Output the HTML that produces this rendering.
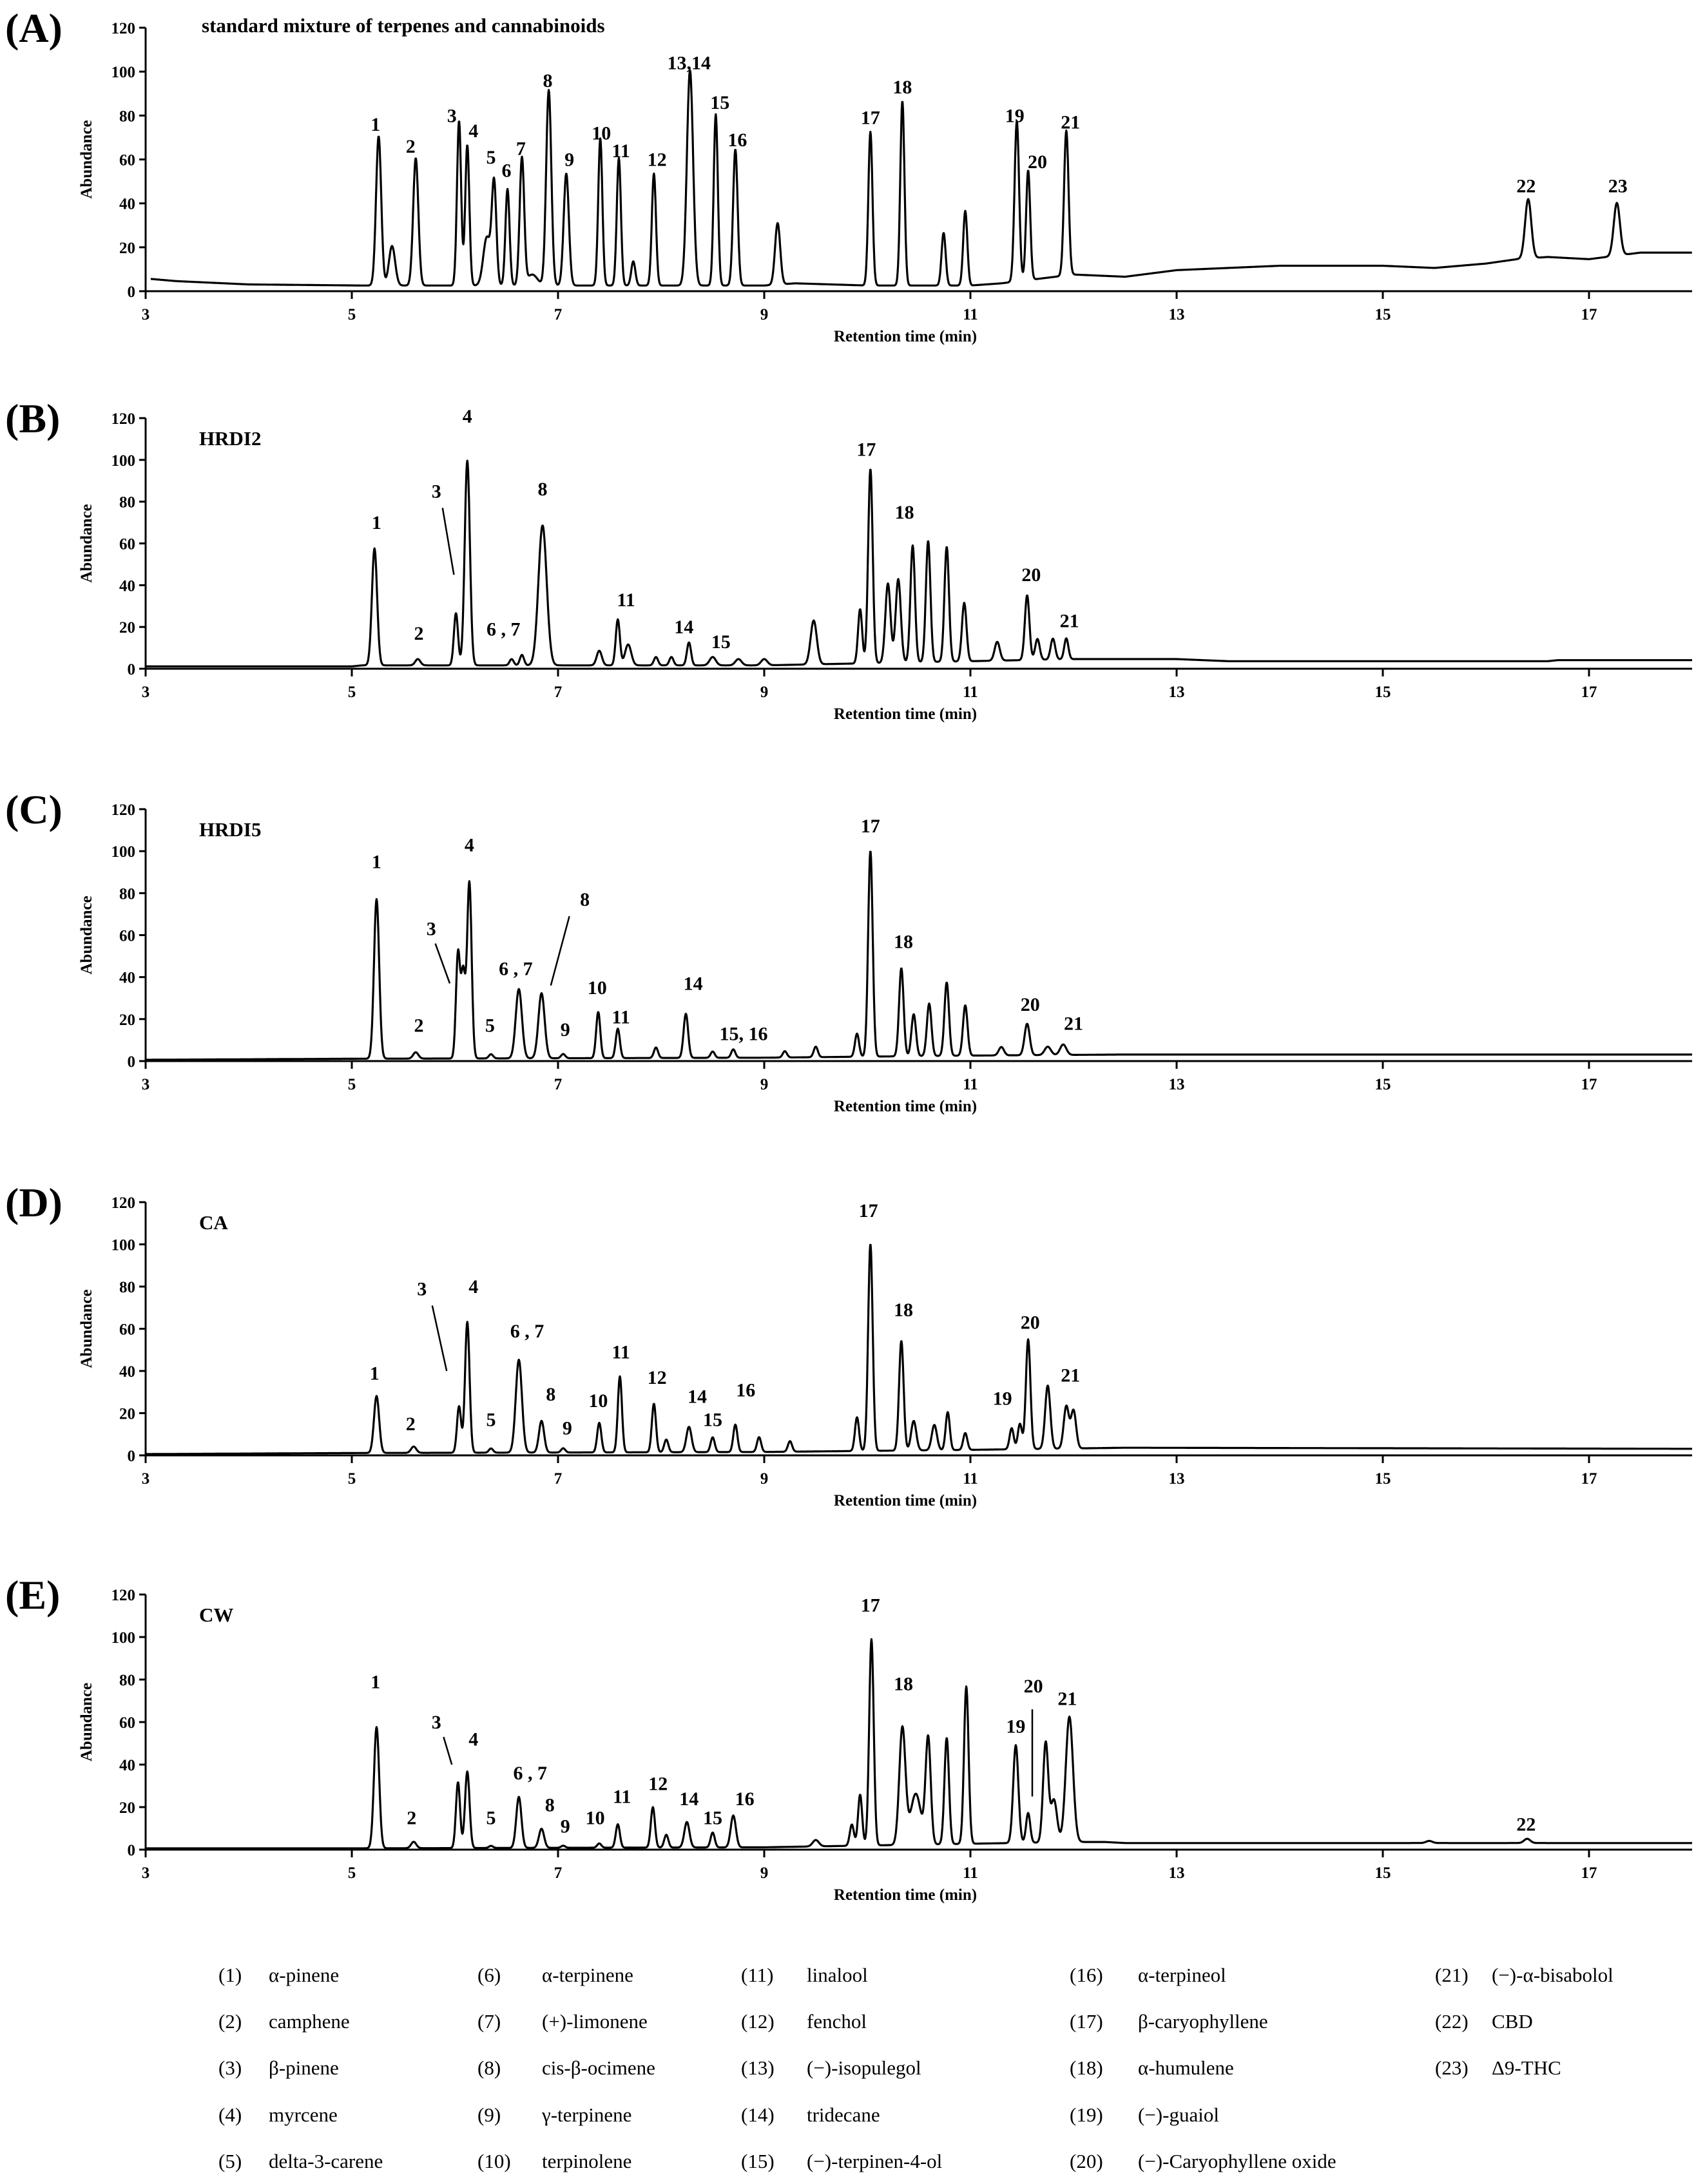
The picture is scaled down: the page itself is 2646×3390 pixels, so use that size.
<!DOCTYPE html>
<html><head><meta charset="utf-8">
<style>
html,body{margin:0;padding:0;background:#fff;}
svg{display:block;}
text{font-family:"Liberation Serif","DejaVu Serif",serif;fill:#000;}
.tk{font-size:25px;font-weight:bold;}
.pl{font-size:30px;font-weight:bold;}
.lg{font-size:31px;}
</style></head>
<body>
<svg id="chart" width="2646" height="3390" viewBox="0 0 2646 3390" xmlns="http://www.w3.org/2000/svg">
<g id="legend">
<g class="lg">
<text x="339" y="3076" class="lg">(1)</text><text x="417" y="3076" class="lg">α-pinene</text>
<text x="339" y="3148" class="lg">(2)</text><text x="417" y="3148" class="lg">camphene</text>
<text x="339" y="3220" class="lg">(3)</text><text x="417" y="3220" class="lg">β-pinene</text>
<text x="339" y="3293" class="lg">(4)</text><text x="417" y="3293" class="lg">myrcene</text>
<text x="339" y="3365" class="lg">(5)</text><text x="417" y="3365" class="lg">delta-3-carene</text>
<text x="741" y="3076" class="lg">(6)</text><text x="841" y="3076" class="lg">α-terpinene</text>
<text x="741" y="3148" class="lg">(7)</text><text x="841" y="3148" class="lg">(+)-limonene</text>
<text x="741" y="3220" class="lg">(8)</text><text x="841" y="3220" class="lg">cis-β-ocimene</text>
<text x="741" y="3293" class="lg">(9)</text><text x="841" y="3293" class="lg">γ-terpinene</text>
<text x="741" y="3365" class="lg">(10)</text><text x="841" y="3365" class="lg">terpinolene</text>
<text x="1150" y="3076" class="lg">(11)</text><text x="1252" y="3076" class="lg">linalool</text>
<text x="1150" y="3148" class="lg">(12)</text><text x="1252" y="3148" class="lg">fenchol</text>
<text x="1150" y="3220" class="lg">(13)</text><text x="1252" y="3220" class="lg">(−)-isopulegol</text>
<text x="1150" y="3293" class="lg">(14)</text><text x="1252" y="3293" class="lg">tridecane</text>
<text x="1150" y="3365" class="lg">(15)</text><text x="1252" y="3365" class="lg">(−)-terpinen-4-ol</text>
<text x="1660" y="3076" class="lg">(16)</text><text x="1766" y="3076" class="lg">α-terpineol</text>
<text x="1660" y="3148" class="lg">(17)</text><text x="1766" y="3148" class="lg">β-caryophyllene</text>
<text x="1660" y="3220" class="lg">(18)</text><text x="1766" y="3220" class="lg">α-humulene</text>
<text x="1660" y="3293" class="lg">(19)</text><text x="1766" y="3293" class="lg">(−)-guaiol</text>
<text x="1660" y="3365" class="lg">(20)</text><text x="1766" y="3365" class="lg">(−)-Caryophyllene oxide</text>
<text x="2227" y="3076" class="lg">(21)</text><text x="2315" y="3076" class="lg">(−)-α-bisabolol</text>
<text x="2227" y="3148" class="lg">(22)</text><text x="2315" y="3148" class="lg">CBD</text>
<text x="2227" y="3220" class="lg">(23)</text><text x="2315" y="3220" class="lg">Δ9-THC</text>
</g>
</g>
</svg>
<script>
const xTicks = [3,5,7,9,11,13,15,17];
const yTicks = [0,20,40,60,80,100,120];

// Panel A: standard mixture
const aTimes   = [5.26,5.39,5.62,6.04,6.12,6.31,6.38,6.51,6.65,6.75,6.91,7.08,7.41,7.59,7.73,7.93,8.28,8.53,8.72,9.13,10.03,10.34,10.74,10.95,11.45,11.56,11.93,16.41,17.27];
const aHeights = [68,18,58,75,64,22,46,44,58,5,89,51,67,58,11,51,98,78,62,28,70,84,24,34,73,50,66,27,24];
const aWidths  = [0.025,0.03,0.025,0.02,0.02,0.035,0.022,0.02,0.022,0.05,0.025,0.025,0.02,0.02,0.02,0.02,0.03,0.02,0.022,0.025,0.02,0.02,0.02,0.02,0.022,0.02,0.022,0.03,0.03];
const aBase    = [[3.05,5],[3.3,4],[4,2.5],[5.1,2],[6,2],[9,2],[9.3,3],[10,2],[11,2],[11.3,3],[12,7],[12.5,6],[13,9],[14,11],[15,11],[15.5,10],[16,12],[16.3,14],[16.6,15],[17,14],[17.5,17],[18,17]];
const aLabels  = ["1","2","3","4","5","6","7","8","9","10","11","12","13,14","15","16","17","18","19","20","21","22","23"];
const aLabelT  = [5.23,5.57,5.97,6.18,6.35,6.5,6.64,6.9,7.11,7.42,7.61,7.96,8.27,8.57,8.74,10.03,10.34,11.43,11.65,11.97,16.39,17.28];
const aLabelV  = [76,66,80,73,61,55,65,96,60,72,64,60,104,86,69,79,93,80,59,77,48,48];

// Panel B: HRDI2
const bTimes   = [5.22,5.64,6.01,6.12,6.55,6.65,6.85,7.4,7.58,7.68,7.95,8.1,8.27,8.5,8.75,9.0,9.48,9.93,10.03,10.2,10.3,10.44,10.59,10.77,10.94,11.26,11.55,11.65,11.8,11.93];
const bHeights = [56,3,25,98,3,5,67,7,22,10,4,4,11,4,3,3,21,26,93,38,40,56,58,55,28,9,31,10,10,10];
const bWidths  = [0.025,0.025,0.02,0.025,0.02,0.02,0.04,0.025,0.02,0.03,0.02,0.02,0.02,0.03,0.03,0.03,0.03,0.02,0.022,0.025,0.025,0.022,0.022,0.022,0.022,0.025,0.022,0.022,0.022,0.02];
const bBase    = [[3,0.5],[5,0.5],[5.1,1],[9,1],[10,2],[12,4],[12.5,4],[13,4],[13.5,3],[16.6,3],[16.7,3.5],[18,3.5]];
const bLabels  = ["1","2","3","4","6 , 7","8","11","14","15","17","18","20","21"];
const bLabelT  = [5.24,5.65,5.82,6.12,6.47,6.85,7.66,8.22,8.58,9.99,10.36,11.59,11.96];
const bLabelV  = [70,17,85,121,19,86,33,20,13,105,75,45,23];
const bLeaders = [[5.88,77,5.99,45]];

// Panel C: HRDI5
const cTimes   = [5.24,5.62,6.03,6.08,6.14,6.35,6.62,6.84,7.05,7.39,7.58,7.95,8.24,8.5,8.7,9.2,9.5,9.9,10.03,10.33,10.45,10.6,10.77,10.95,11.3,11.55,11.75,11.9];
const cHeights = [76,3,50,40,84,2,33,31,2,22,14,5,21,3,4,3,5,11,98,42,20,25,35,24,4,15,4,5];
const cWidths  = [0.025,0.025,0.02,0.02,0.022,0.02,0.03,0.03,0.02,0.02,0.02,0.02,0.022,0.02,0.02,0.02,0.02,0.02,0.022,0.022,0.022,0.022,0.022,0.022,0.025,0.025,0.03,0.03];
const cBase    = [[3,0],[5,0.5],[9,1],[11,2],[12.5,2.5],[18,2.5]];
const cLabels  = ["1","2","3","4","5","6 , 7","8","9","10","11","14","15, 16","17","18","20","21"];
const cLabelT  = [5.24,5.65,5.77,6.14,6.34,6.59,7.26,7.07,7.38,7.61,8.31,8.8,10.03,10.35,11.58,12.0];
const cLabelV  = [95,17,63,103,17,44,77,15,35,21,37,13,112,57,27,18];
const cLeaders = [[5.81,56,5.95,37],[7.11,69,6.93,36]];

// Panel D: CA
const dTimes   = [5.24,5.6,6.04,6.12,6.35,6.62,6.84,7.05,7.4,7.6,7.93,8.05,8.27,8.5,8.72,8.95,9.25,9.9,10.03,10.33,10.45,10.65,10.78,10.95,11.4,11.48,11.56,11.75,11.93,12.0];
const dHeights = [27,3,22,62,2,44,15,2,14,36,23,6,12,7,13,7,5,16,98,52,14,12,18,8,10,12,52,30,20,18];
const dWidths  = [0.025,0.025,0.02,0.022,0.02,0.03,0.025,0.02,0.02,0.02,0.02,0.02,0.025,0.02,0.02,0.02,0.02,0.02,0.022,0.022,0.025,0.025,0.02,0.02,0.02,0.02,0.022,0.025,0.025,0.025];
const dBase    = [[3,0],[5,0.5],[9,1],[11,2],[12.5,3],[18,2.5]];
const dLabels  = ["1","2","3","4","5","6 , 7","8","9","10","11","12","14","15","16","17","18","19","20","21"];
const dLabelT  = [5.22,5.57,5.68,6.18,6.35,6.7,6.93,7.09,7.39,7.61,7.96,8.35,8.5,8.82,10.01,10.35,11.31,11.58,11.97];
const dLabelV  = [39,15,79,80,17,59,29,13,26,49,37,28,17,31,116,69,27,63,38];
const dLeaders = [[5.78,71,5.92,40]];

// Panel E: CW
const eTimes   = [5.24,5.6,6.03,6.12,6.35,6.62,6.84,7.05,7.4,7.58,7.92,8.05,8.25,8.5,8.7,9.5,9.85,9.93,10.04,10.34,10.47,10.59,10.77,10.96,11.44,11.56,11.73,11.81,11.96,15.45,16.4];
const eHeights = [57,3,31,36,1,24,9,1,2,11,19,6,12,7,15,3,10,24,97,55,24,50,50,74,46,14,47,20,59,1,2];
const eWidths  = [0.025,0.025,0.02,0.022,0.02,0.025,0.025,0.02,0.02,0.02,0.02,0.02,0.025,0.02,0.025,0.03,0.02,0.02,0.022,0.03,0.05,0.025,0.022,0.022,0.025,0.02,0.025,0.03,0.035,0.03,0.03];
const eBase    = [[3,0],[5,0],[9,0.5],[12,3],[12.3,3],[12.5,2.5],[18,2.5]];
const eLabels  = ["1","2","3","4","5","6 , 7","8","9","10","11","12","14","15","16","17","18","19","20","21","22"];
const eLabelT  = [5.23,5.58,5.82,6.18,6.35,6.73,6.92,7.07,7.36,7.62,7.97,8.27,8.5,8.81,10.03,10.35,11.44,11.61,11.94,16.39];
const eLabelV  = [79,15,60,52,15,36,21,11,15,25,31,24,15,24,115,78,58,77,71,12];
const eLeaders = [[5.89,53,5.97,40],[11.6,66,11.6,25]];

const panels = [
  {id:"a", letter:"(A)", title:"standard mixture  of terpenes and cannabinoids", y0:452, y120:43, times:aTimes, heights:aHeights, widths:aWidths, base:aBase, labels:aLabels, lt:aLabelT, lv:aLabelV, leaders:[]},
  {id:"b", letter:"(B)", title:"HRDI2", y0:1038, y120:649, times:bTimes, heights:bHeights, widths:bWidths, base:bBase, labels:bLabels, lt:bLabelT, lv:bLabelV, leaders:bLeaders},
  {id:"c", letter:"(C)", title:"HRDI5", y0:1647, y120:1256, times:cTimes, heights:cHeights, widths:cWidths, base:cBase, labels:cLabels, lt:cLabelT, lv:cLabelV, leaders:cLeaders},
  {id:"d", letter:"(D)", title:"CA", y0:2259, y120:1866, times:dTimes, heights:dHeights, widths:dWidths, base:dBase, labels:dLabels, lt:dLabelT, lv:dLabelV, leaders:dLeaders},
  {id:"e", letter:"(E)", title:"CW", y0:2871, y120:2475, times:eTimes, heights:eHeights, widths:eWidths, base:eBase, labels:eLabels, lt:eLabelT, lv:eLabelV, leaders:eLeaders}
];

const NS = "http://www.w3.org/2000/svg";
const svg = document.getElementById("chart");
const xScale = t => 226 + (t - 3) * 160;

function mk(tag, attrs, parent, txt){
  const el = document.createElementNS(NS, tag);
  for (const k in attrs) el.setAttribute(k, attrs[k]);
  if (txt !== undefined) el.textContent = txt;
  parent.appendChild(el);
  return el;
}
function baseAt(base, t){
  if (t <= base[0][0]) return base[0][1];
  for (let i = 1; i < base.length; i++){
    if (t <= base[i][0]){
      const a = base[i-1], b = base[i];
      return a[1] + (b[1]-a[1]) * (t-a[0])/(b[0]-a[0]);
    }
  }
  return base[base.length-1][1];
}

panels.forEach(p => {
  const yScale = v => p.y0 - (p.y0 - p.y120) * v / 120;
  const g = mk("g", {}, svg);
  
  

  const letter = mk("text", {x:8, y:p.y120 + 22, "font-size":64, "font-weight":"bold"}, g, p.letter);
  
  

  const title = mk("text", {x:p.id==="a"?313:309, y:p.id==="a"?p.y120+7:p.y120+42, "font-size":31, "font-weight":"bold"}, g, p.title);
  
  

  const xa = mk("line", {x1:xScale(3), y1:p.y0, x2:xScale(18), y2:p.y0, stroke:"#000", "stroke-width":3}, g);
  
  
  const ya = mk("line", {x1:xScale(3), y1:p.y0, x2:xScale(3), y2:p.y120, stroke:"#000", "stroke-width":3}, g);
  
  

  xTicks.forEach(t => {
    const tk = mk("line", {x1:xScale(t), y1:p.y0, x2:xScale(t), y2:p.y0+12, stroke:"#000", "stroke-width":3}, g);
    
    
    const lb = mk("text", {x:xScale(t), y:p.y0+44, "text-anchor":"middle", class:"tk"}, g, String(t));
    
    
  });
  yTicks.forEach(v => {
    const tk = mk("line", {x1:xScale(3)-10, y1:yScale(v), x2:xScale(3), y2:yScale(v), stroke:"#000", "stroke-width":3}, g);
    
    
    const lb = mk("text", {x:xScale(3)-16, y:yScale(v)+9, "text-anchor":"end", class:"tk"}, g, String(v));
    
    
  });
  const xt = mk("text", {x:1405, y:p.y0+78, "text-anchor":"middle", class:"tk"}, g, "Retention time (min)");
  
  
  const cy = (p.y0 + p.y120)/2;
  const yt = mk("text", {x:0, y:0, "text-anchor":"middle", class:"tk", transform:`translate(142,${cy}) rotate(-90)`}, g, "Abundance");
  
  

  let d = "";
  const t0 = p.id === "a" ? 3.05 : 3.0;
  for (let t = t0; t <= 18.0001; t += 0.004){
    let v = baseAt(p.base, t);
    for (let i = 0; i < p.times.length; i++){
      const z = (t - p.times[i]) / p.widths[i];
      if (Math.abs(z) < 6) v += p.heights[i] * Math.exp(-0.5*z*z);
    }
    d += (d ? "L" : "M") + xScale(t).toFixed(1) + "," + (yScale(v) - 2).toFixed(1);
  }
  const tr = mk("path", {d:d, fill:"none", stroke:"#000", "stroke-width":3.2, "stroke-linejoin":"round"}, g);
  
  

  p.labels.forEach((lab, i) => {
    const tx = mk("text", {x:xScale(p.lt[i]), y:yScale(p.lv[i]) + 10, "text-anchor":"middle", class:"pl"}, g, lab);
    
    
  });
  p.leaders.forEach(L => {
    const ln = mk("line", {x1:xScale(L[0]), y1:yScale(L[1]), x2:xScale(L[2]), y2:yScale(L[3]), stroke:"#000", "stroke-width":2.5}, g);
    
    
  });
});
</script>
</body></html>
